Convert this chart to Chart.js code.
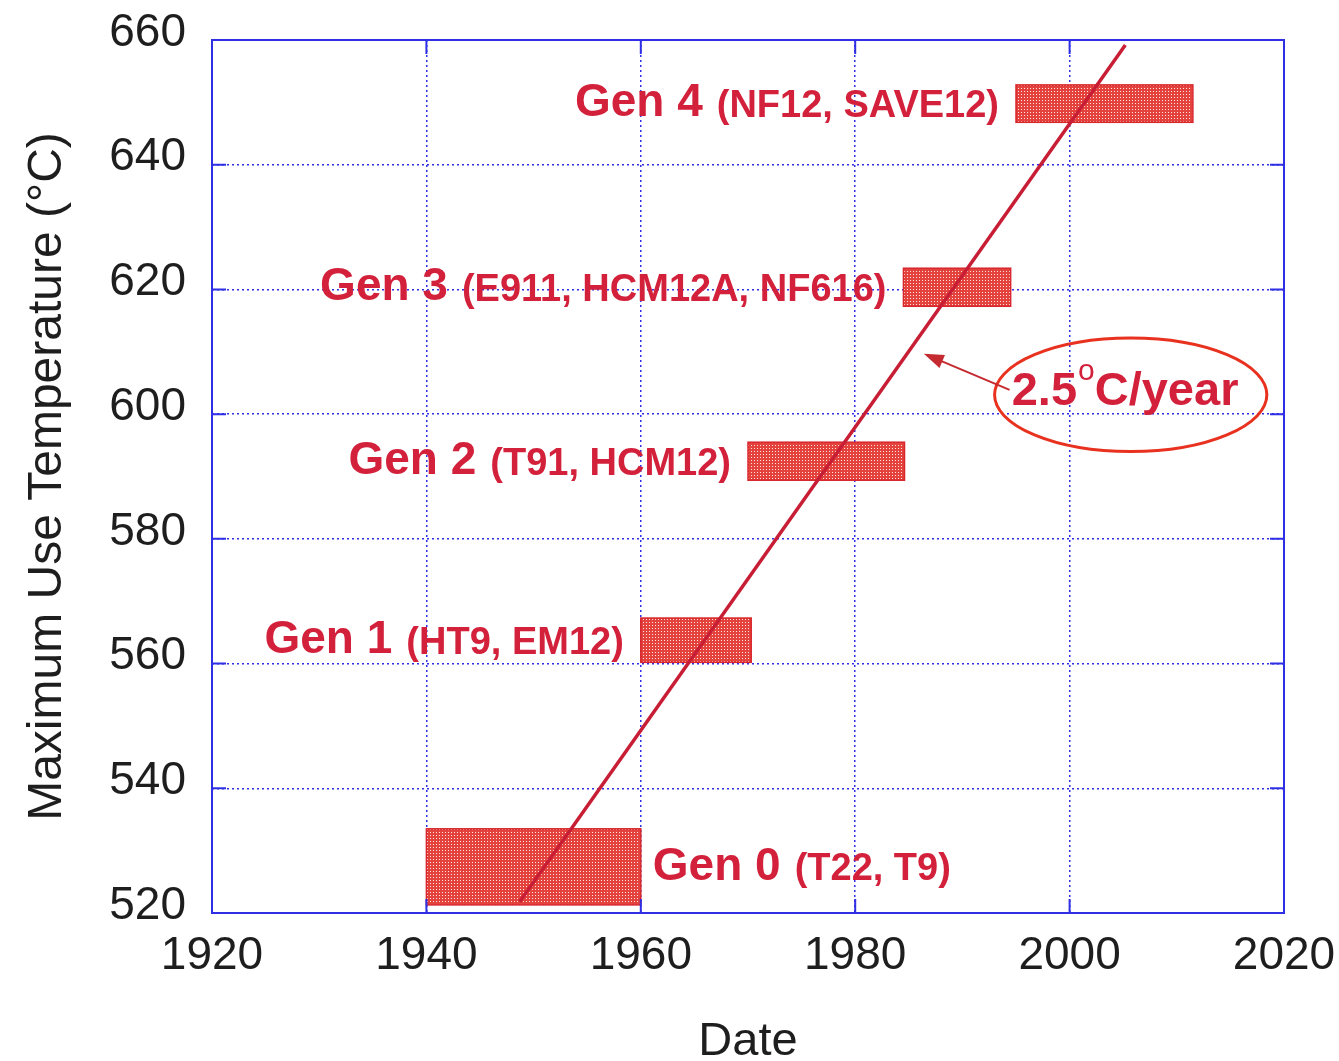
<!DOCTYPE html>
<html>
<head>
<meta charset="utf-8">
<script src="https://cdn.jsdelivr.net/npm/chart.js@4"></script>
<style>
  html, body { margin: 0; padding: 0; background: #fff; }
  #wrap { width: 1339px; height: 1061px; }
</style>
</head>
<body>
<div id="wrap"><canvas id="tempChart"></canvas></div>
<script>
// generations of ferritic steels
const genNames = ["Gen 0", "Gen 1", "Gen 2", "Gen 3", "Gen 4"];
const genAlloys = ["(T22, T9)", "(HT9, EM12)", "(T91, HCM12)", "(E911, HCM12A, NF616)", "(NF12, SAVE12)"];
const yearStart = [1940, 1960, 1970, 1984.5, 1995];
const yearEnd = [1960, 1970.3, 1984.6, 1994.5, 2011.5];
const tempLow = [521.3, 560.2, 589.4, 617.3, 646.8];
const tempHigh = [533.5, 567.3, 595.5, 623.4, 652.8];

// trend line, 2.5 C per year
const trendYears = [1948.7, 2005.2];
const trendTemps = [521.8, 659.2];

// tick labels
const xTicks = [1920, 1940, 1960, 1980, 2000, 2020];
const yTicks = [520, 540, 560, 580, 600, 620, 640, 660];

const blue = "#2f2fe6";
const textRed = "#d3213b";
const sans = "'Liberation Sans', Arial, sans-serif";

// dotted red hatch for the boxes
function makeHatch() {
  const c = document.createElement("canvas");
  c.width = 3;
  c.height = 3;
  const g = c.getContext("2d");
  g.fillStyle = "#e4433d";
  g.fillRect(0, 0, 3, 3);
  g.fillStyle = "#fde4e0";
  g.fillRect(1, 1, 1, 1);
  return g.createPattern(c, "repeat");
}

const boxPlugin = {
  id: "boxes",
  beforeDatasetsDraw(chart) {
    const ctx = chart.ctx;
    const x = chart.scales.x;
    const y = chart.scales.y;
    const hatch = makeHatch();
    ctx.save();
    for (let i = 0; i < genNames.length; i++) {
      const x0 = x.getPixelForValue(yearStart[i]);
      const x1 = x.getPixelForValue(yearEnd[i]);
      const y0 = y.getPixelForValue(tempHigh[i]);
      const y1 = y.getPixelForValue(tempLow[i]);
      ctx.fillStyle = hatch;
      ctx.fillRect(x0, y0, x1 - x0, y1 - y0);
      ctx.strokeStyle = "#d8262c";
      ctx.lineWidth = 1.5;
      ctx.strokeRect(x0, y0, x1 - x0, y1 - y0);
    }
    ctx.restore();
  },
  afterDatasetsDraw(chart) {
    const ctx = chart.ctx;
    const x = chart.scales.x;
    const y = chart.scales.y;
    const area = chart.chartArea;
    ctx.save();

    // labels
    ctx.fillStyle = textRed;
    ctx.textBaseline = "middle";
    const bigFont = "bold 46px " + sans;
    const smallFont = "bold 38px " + sans;
    for (let i = 0; i < genNames.length; i++) {
      const yc = y.getPixelForValue((tempLow[i] + tempHigh[i]) / 2);
      if (i === 0) {
        let px = x.getPixelForValue(yearEnd[i]) + 12;
        ctx.font = bigFont;
        ctx.textAlign = "left";
        ctx.fillText(genNames[i], px, yc);
        px += ctx.measureText(genNames[i]).width + 14;
        ctx.font = smallFont;
        ctx.fillText(genAlloys[i], px, yc + 3);
      } else {
        let px = x.getPixelForValue(yearStart[i]) - 17;
        ctx.font = smallFont;
        ctx.textAlign = "right";
        ctx.fillText(genAlloys[i], px, yc + 3);
        px -= ctx.measureText(genAlloys[i]).width + 14;
        ctx.font = bigFont;
        ctx.fillText(genNames[i], px, yc);
      }
    }

    // 2.5 C/year callout
    const cx = x.getPixelForValue(2005.7);
    const cy = y.getPixelForValue(603.1);
    const rx = x.getPixelForValue(2005.7 + 12.7) - cx;
    const ry = cy - y.getPixelForValue(603.1 + 9.1);
    ctx.strokeStyle = "#e8321f";
    ctx.lineWidth = 3;
    ctx.beginPath();
    ctx.ellipse(cx, cy, rx, ry, 0, 0, Math.PI * 2);
    ctx.stroke();

    let tx = x.getPixelForValue(1994.6);
    const ty = y.getPixelForValue(603.6);
    ctx.textAlign = "left";
    ctx.font = "bold 47px " + sans;
    ctx.fillText("2.5", tx, ty);
    tx += ctx.measureText("2.5").width + 1;
    ctx.font = "30px " + sans;
    ctx.fillText("o", tx, ty - 20);
    tx += ctx.measureText("o").width;
    ctx.font = "bold 47px " + sans;
    ctx.fillText("C/year", tx, ty);

    // arrow to the trend line
    const ax0 = x.getPixelForValue(1994.4);
    const ay0 = y.getPixelForValue(603.9);
    const ax1 = x.getPixelForValue(1986.4);
    const ay1 = y.getPixelForValue(609.7);
    const ang = Math.atan2(ay1 - ay0, ax1 - ax0);
    ctx.strokeStyle = "#c42a30";
    ctx.fillStyle = "#c42a30";
    ctx.lineWidth = 2;
    ctx.beginPath();
    ctx.moveTo(ax0, ay0);
    ctx.lineTo(ax1 - 14 * Math.cos(ang), ay1 - 14 * Math.sin(ang));
    ctx.stroke();
    ctx.beginPath();
    ctx.moveTo(ax1, ay1);
    ctx.lineTo(ax1 - 20 * Math.cos(ang) + 7 * Math.sin(ang), ay1 - 20 * Math.sin(ang) - 7 * Math.cos(ang));
    ctx.lineTo(ax1 - 20 * Math.cos(ang) - 7 * Math.sin(ang), ay1 - 20 * Math.sin(ang) + 7 * Math.cos(ang));
    ctx.closePath();
    ctx.fill();

    // frame and inner ticks
    ctx.strokeStyle = blue;
    ctx.lineWidth = 2;
    ctx.strokeRect(area.left, area.top, area.right - area.left, area.bottom - area.top);
    ctx.beginPath();
    xTicks.slice(1, -1).forEach(v => {
      const px = x.getPixelForValue(v);
      ctx.moveTo(px, area.bottom);
      ctx.lineTo(px, area.bottom - 14);
      ctx.moveTo(px, area.top);
      ctx.lineTo(px, area.top + 14);
    });
    yTicks.slice(1, -1).forEach(v => {
      const py = y.getPixelForValue(v);
      ctx.moveTo(area.left, py);
      ctx.lineTo(area.left + 14, py);
      ctx.moveTo(area.right, py);
      ctx.lineTo(area.right - 14, py);
    });
    ctx.stroke();
    ctx.restore();
  }
};

const ctx = document.getElementById("tempChart").getContext("2d");

const chart = new Chart(ctx, {
  type: "scatter",
  data: {
    datasets: [
      {
        label: "trend",
        data: trendYears.map((yr, i) => ({ x: yr, y: trendTemps[i] })),
        showLine: true,
        borderColor: "#c81e35",
        borderWidth: 3.5,
        pointRadius: 0,
      },
    ],
  },
  options: {
    responsive: true,
    maintainAspectRatio: false,
    animation: false,
    layout: {
      padding: { top: 40, right: 55, left: 0, bottom: 0 },
    },
    plugins: {
      legend: { display: false },
      tooltip: { enabled: false },
    },
    scales: {
      x: {
        type: "linear",
        min: 1920,
        max: 2020,
        afterBuildTicks: (axis) => {
          axis.ticks = xTicks.map(v => ({ value: v }));
        },
        afterFit: (axis) => {
          axis.height = 148;
          axis.paddingLeft = 0;
          axis.paddingRight = 0;
        },
        grid: {
          color: blue,
          lineWidth: 1.5,
          drawTicks: false,
        },
        border: { display: false, dash: [2, 3] },
        ticks: {
          padding: 16,
          color: "#1e1e1e",
          font: { family: sans, size: 46 },
          callback: (v) => String(v),
        },
        title: {
          display: true,
          text: "Date",
          color: "#1e1e1e",
          padding: { top: 51, bottom: -9 },
          font: { family: sans, size: 47 },
        },
      },
      y: {
        type: "linear",
        min: 520,
        max: 660,
        afterBuildTicks: (axis) => {
          axis.ticks = yTicks.map(v => ({ value: v }));
        },
        afterFit: (axis) => {
          axis.width = 212;
          axis.paddingTop = 0;
          axis.paddingBottom = 0;
        },
        grid: {
          color: blue,
          lineWidth: 1.5,
          drawTicks: false,
        },
        border: { display: false, dash: [2, 3] },
        ticks: {
          padding: 26,
          labelOffset: -7,
          color: "#1e1e1e",
          font: { family: sans, size: 46 },
          callback: (v) => String(v),
        },
        title: {
          display: true,
          text: "Maximum Use Temperature (°C)",
          color: "#1e1e1e",
          padding: { top: 19, bottom: 0 },
          font: { family: sans, size: 48 },
        },
      },
    },
  },
  plugins: [boxPlugin],
});
</script>
</body>
</html>
